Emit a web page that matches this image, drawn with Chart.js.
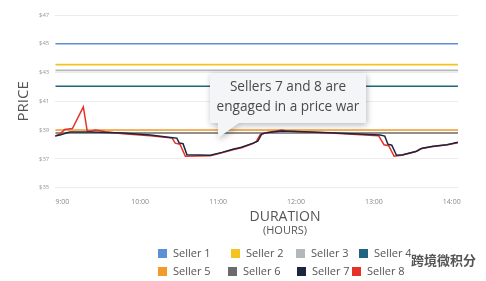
<!DOCTYPE html>
<html lang="en">
<head>
<meta charset="UTF-8">
<title>Seller prices</title>
<script src="https://cdn.jsdelivr.net/npm/chart.js"></script>
<style>
    body { margin: 0; background: #fff; font-family: 'Open Sans', sans-serif; }
    #wrap { position: relative; width: 486px; height: 281px; }
    #legend { position: absolute; left: 0; top: 0; width: 486px; height: 281px; pointer-events: none; }
    .item { position: absolute; font-size: 11px; color: #555; white-space: nowrap; line-height: 12px; }
    .item span.box { display: inline-block; width: 9px; height: 9px; margin-right: 6px; vertical-align: -1px; }
    .mark { position: absolute; left: 411px; top: 250px; font-family: 'Noto Sans CJK SC', sans-serif; font-size: 13px; font-weight: bold; color: #555; text-shadow: 0 0 2px #fff, 0 0 3px #fff, 0 0 4px #fff; background: rgba(255,255,255,0.6); }
</style>
</head>
<body>
<div id="wrap">
    <canvas id="chart" width="486" height="281"></canvas>
    <div id="legend"></div>
</div>
<script>
// --- data ---
const sellerNames = ['Seller 1', 'Seller 2', 'Seller 3', 'Seller 4', 'Seller 5', 'Seller 6', 'Seller 7', 'Seller 8'];
const sellerColors = ['#5b8fd6', '#f4c320', '#b4b8ba', '#1f6582', '#f39a2c', '#6b6b6b', '#1c2640', '#e53128'];

// sellers 1-6 keep one price all day
const flatPrices = [45.0, 43.55, 43.15, 42.05, 39.0, 38.8];
const dayStart = 8.91;
const dayEnd = 14.08;

// seller 7 (hours, price)
const s7Hours = [8.90, 8.97, 9.05, 9.10, 9.36, 9.78, 10.13, 10.42, 10.47, 10.50, 10.55, 10.60, 10.90, 11.05, 11.19, 11.30, 11.45, 11.51, 11.56, 11.62, 11.82, 12.44, 13.08, 13.14, 13.18, 13.23, 13.29, 13.37, 13.55, 13.62, 13.76, 13.94, 14.08];
const s7Prices = [38.58, 38.65, 38.79, 38.86, 38.86, 38.79, 38.65, 38.47, 38.44, 38.11, 38.05, 37.28, 37.25, 37.45, 37.67, 37.80, 38.09, 38.23, 38.72, 38.82, 38.93, 38.82, 38.65, 38.58, 38.02, 37.95, 37.25, 37.28, 37.53, 37.74, 37.88, 37.98, 38.16];

// seller 8 (hours, price)
const s8Hours = [8.90, 8.97, 9.03, 9.13, 9.27, 9.32, 9.38, 9.42, 9.49, 9.55, 9.78, 10.13, 10.41, 10.45, 10.51, 10.58, 10.90, 11.05, 11.19, 11.30, 11.44, 11.49, 11.54, 11.60, 11.82, 11.87, 12.44, 13.06, 13.13, 13.19, 13.26, 13.36, 13.53, 13.60, 13.74, 13.94, 14.08];
const s8Prices = [38.58, 38.72, 39.04, 39.11, 40.61, 38.93, 38.93, 39.00, 38.96, 38.89, 38.75, 38.61, 38.44, 38.09, 38.02, 37.18, 37.21, 37.42, 37.63, 37.76, 38.05, 38.19, 38.68, 38.79, 39.00, 38.93, 38.79, 38.61, 37.98, 37.91, 37.18, 37.25, 37.49, 37.70, 37.84, 37.98, 38.12];

const hourTicks = [9, 10, 11, 12, 13, 14];
const hourLabels = ['9:00', '10:00', '11:00', '12:00', '13:00', '14:00'];
const priceTicks = [35, 37, 39, 41, 43, 45, 47];

const calloutLines = ['Sellers 7 and 8 are', 'engaged in a price war'];

// --- datasets (lower index is drawn on top) ---
const datasets = [];
datasets.push({
    label: sellerNames[6],
    data: s7Hours.map((h, i) => ({ x: h, y: s7Prices[i] })),
    borderColor: sellerColors[6],
    borderWidth: 1.5
});
datasets.push({
    label: sellerNames[7],
    data: s8Hours.map((h, i) => ({ x: h, y: s8Prices[i] })),
    borderColor: sellerColors[7],
    borderWidth: 1.5
});
flatPrices.forEach((p, i) => {
    datasets.push({
        label: sellerNames[i],
        data: [{ x: dayStart, y: p }, { x: dayEnd, y: p }],
        borderColor: sellerColors[i],
        borderWidth: 1.6
    });
});

const decor = {
    id: 'decor',
    afterDatasetsDraw(chart) {
        const ctx = chart.ctx;
        ctx.save();
        // callout box
        const bx = 210, by = 73, bw = 156, bh = 50;
        ctx.shadowColor = 'rgba(0,0,0,0.28)';
        ctx.shadowBlur = 6;
        ctx.shadowOffsetX = 1;
        ctx.shadowOffsetY = 2;
        ctx.fillStyle = '#f3f5f6';
        ctx.beginPath();
        ctx.moveTo(bx, by);
        ctx.lineTo(bx + bw, by);
        ctx.lineTo(bx + bw, by + bh);
        ctx.lineTo(bx + 29, by + bh);
        ctx.lineTo(bx + 8, by + bh + 15);
        ctx.lineTo(bx + 8, by + bh);
        ctx.lineTo(bx, by + bh);
        ctx.closePath();
        ctx.fill();
        ctx.shadowColor = 'transparent';
        ctx.fillStyle = '#4a4a4a';
        ctx.font = '13.6px "Open Sans"';
        ctx.textAlign = 'center';
        ctx.textBaseline = 'middle';
        ctx.fillText(calloutLines[0], bx + bw / 2, by + 14);
        ctx.fillText(calloutLines[1], bx + bw / 2, by + 34);

        // x axis title
        ctx.fillStyle = '#555';
        ctx.font = '14px "Open Sans"';
        ctx.fillText('DURATION', 285, 217);
        ctx.font = '11px "Open Sans"';
        ctx.fillText('(HOURS)', 285, 231);
        ctx.restore();
    }
};

new Chart(document.getElementById('chart'), {
    type: 'line',
    data: { datasets: datasets },
    options: {
        responsive: false,
        animation: false,
        events: [],
        elements: { point: { radius: 0 }, line: { tension: 0 } },
        layout: { padding: { left: 15, right: 28, top: 15, bottom: 73 } },
        plugins: { legend: { display: false }, tooltip: { enabled: false } },
        scales: {
            x: {
                type: 'linear',
                min: dayStart,
                max: dayEnd,
                afterBuildTicks: s => { s.ticks = hourTicks.map(v => ({ value: v })); },
                ticks: {
                    callback: v => hourLabels[hourTicks.indexOf(v)],
                    color: '#888', font: { size: 7, family: 'Open Sans' },
                    maxRotation: 0, padding: 2
                },
                grid: { display: false },
                border: { display: false }
            },
            y: {
                min: 35,
                max: 47,
                afterBuildTicks: s => { s.ticks = priceTicks.map(v => ({ value: v })); },
                ticks: {
                    callback: v => '$' + v,
                    color: '#999', font: { size: 6, family: 'Open Sans' }, padding: 6
                },
                grid: { color: '#ececec', drawTicks: false },
                border: { display: false },
                title: {
                    display: true, text: 'PRICE', color: '#555',
                    font: { size: 15, family: 'Open Sans' }, padding: { top: 0, bottom: 0 }
                }
            }
        }
    },
    plugins: [decor]
});

// legend
const legendX = [[158, 231, 296, 359], [158, 228, 297, 352]];
const legendY = [247, 265];
const legendEl = document.getElementById('legend');
sellerNames.forEach((name, i) => {
    const row = Math.floor(i / 4), col = i % 4;
    const d = document.createElement('div');
    d.className = 'item';
    d.style.left = legendX[row][col] + 'px';
    d.style.top = legendY[row] + 'px';
    d.innerHTML = '<span class="box" style="background:' + sellerColors[i] + '"></span>' + name;
    legendEl.appendChild(d);
});
const mark = document.createElement('div');
mark.className = 'mark';
mark.textContent = '跨境微积分';
legendEl.appendChild(mark);
</script>
</body>
</html>
